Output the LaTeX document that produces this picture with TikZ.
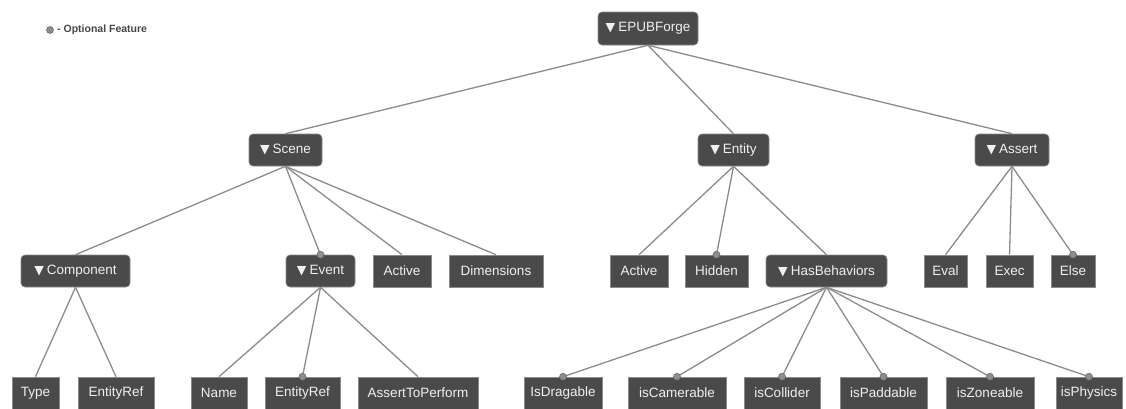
\documentclass[tikz,border=0pt]{standalone}
\usepackage{fontspec}
\setmainfont{Liberation Sans}
\newfontfamily\symfont{DejaVu Sans}
\definecolor{boxfill}{HTML}{4A4A4A}
\definecolor{boxline}{HTML}{8A8A8A}
\definecolor{edgecol}{HTML}{8C8C8C}
\definecolor{txtcol}{HTML}{F0F0F0}
\definecolor{optfill}{HTML}{8E8E8E}
\definecolor{optline}{HTML}{6A6A6A}
\newcommand{\tri}{{\symfont\fontsize{12.5pt}{12.5pt}\selectfont ▼}\hspace{3pt}}
\begin{document}
\begin{tikzpicture}[x=1pt,y=-1pt,
  every node/.style={font=\fontsize{13.5pt}{15pt}\selectfont, text=txtcol, inner sep=0pt, minimum height=32pt},
  parentbox/.style={fill=boxfill, draw=boxline, line width=0.6pt, rounded corners=4pt},
  leafbox/.style={fill=boxfill, draw=boxline, line width=0.6pt},
  edge/.style={draw=edgecol, line width=1.3pt},
  opt/.style={circle, fill=optfill, draw=optline, line width=0.6pt, minimum size=7pt, inner sep=0pt}]
\useasboundingbox[fill=white] (0,0) rectangle (1126,408);
% legend
\node[opt, minimum height=7pt] (legdot) at (50,30) {};
\node[anchor=west, text=black!72, font=\bfseries\fontsize{10.5pt}{12pt}\selectfont, minimum height=0pt] (legtxt) at (57,30) {- Optional Feature};
% level 1
\node[parentbox, minimum width=100pt, minimum height=33pt] (root) at (648,28.5) {\tri EPUBForge};
% level 2
\node[parentbox, minimum width=73pt] (scene) at (285.5,150) {\tri Scene};
\node[parentbox, minimum width=71pt] (entity) at (733.5,150) {\tri Entity};
\node[parentbox, minimum width=74pt] (assert) at (1012,150) {\tri Assert};
% level 3
\node[parentbox, minimum width=109pt] (component) at (75.5,271) {\tri Component};
\node[parentbox, minimum width=69pt] (event) at (320.5,271) {\tri Event};
\node[leafbox, minimum width=58pt] (active) at (402,271) {Active};
\node[leafbox, minimum width=94pt] (dimensions) at (496,271) {Dimensions};
\node[leafbox, minimum width=58pt] (eactive) at (639,271) {Active};
\node[leafbox, minimum width=63pt] (hidden) at (716.5,271) {Hidden};
\node[parentbox, minimum width=121pt] (hasbeh) at (826.5,271) {\tri HasBehaviors};
\node[leafbox, minimum width=43pt] (eval) at (945.5,271) {Eval};
\node[leafbox, minimum width=47pt] (exec) at (1009.5,271) {Exec};
\node[leafbox, minimum width=44pt] (else) at (1073,271) {Else};
% level 4
\node[leafbox, minimum width=47pt] (type) at (35.5,393) {Type};
\node[leafbox, minimum width=76pt] (centref) at (116,393) {EntityRef};
\node[leafbox, minimum width=56pt] (name) at (219,393) {Name};
\node[leafbox, minimum width=75pt] (eventref) at (302.5,393) {EntityRef};
\node[leafbox, minimum width=120pt] (atp) at (418,393) {AssertToPerform};
\node[leafbox, minimum width=78pt] (drag) at (563,393) {IsDragable};
\node[leafbox, minimum width=98pt] (cam) at (677,393) {isCamerable};
\node[leafbox, minimum width=76pt] (coll) at (782,393) {isCollider};
\node[leafbox, minimum width=87pt] (padd) at (883.5,393) {isPaddable};
\node[leafbox, minimum width=88pt] (zone) at (990,393) {isZoneable};
\node[leafbox, minimum width=66pt] (phys) at (1089,393) {isPhysics};
% edges
\foreach \p/\c in {root/scene, root/entity, root/assert,
  scene/component, scene/event, scene/active, scene/dimensions,
  entity/eactive, entity/hidden, entity/hasbeh,
  assert/eval, assert/exec, assert/else,
  component/type, component/centref,
  event/name, event/eventref, event/atp,
  hasbeh/drag, hasbeh/cam, hasbeh/coll, hasbeh/padd, hasbeh/zone, hasbeh/phys}
  {\path[edge] (\p.south) -- (\c.north);}
% optional markers
\foreach \c in {event, eventref, hidden, else, drag, cam, coll, padd, zone, phys}
  {\node[opt, minimum height=7pt] (opt-\c) at (\c.north) {};}
\end{tikzpicture}
\end{document}
